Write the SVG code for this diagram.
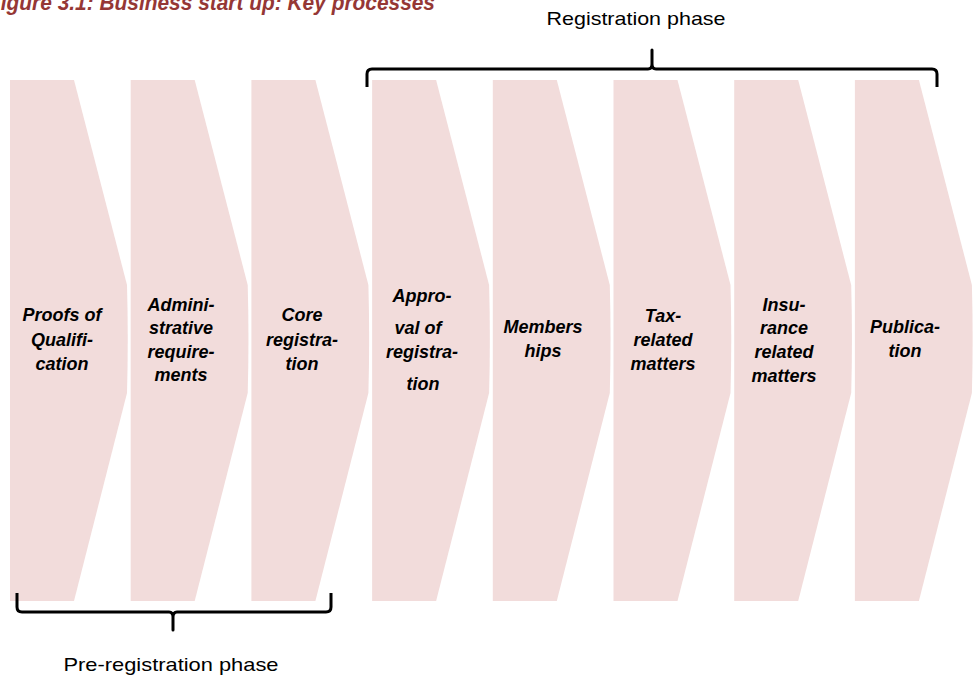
<svg xmlns="http://www.w3.org/2000/svg" width="975" height="681" viewBox="0 0 975 681">
<defs>
<style>
.step{fill:#f2dcdb;stroke:none}
.lbl{font-family:"Liberation Sans",Arial,sans-serif;font-size:18px;font-weight:bold;font-style:italic;fill:#000;text-anchor:middle}
.phase{font-family:"Liberation Sans",Arial,sans-serif;font-size:19px;fill:#000;text-anchor:middle}
.title{font-family:"Liberation Sans",Arial,sans-serif;font-size:22px;font-weight:bold;font-style:italic;fill:#953735}
.brace{fill:none;stroke:#000;stroke-width:3;stroke-linejoin:round;stroke-linecap:butt}
</style>
<path id="chev" d="M0,80 H64 L117,285 Q118.5,339 117,393 L64,601 H0 Z"/>
</defs>
<rect width="975" height="681" fill="#fff"/>
<text class="title" x="-12" y="10" textLength="447" lengthAdjust="spacingAndGlyphs">Figure 3.1: Business start up: Key processes</text>

<g id="n1"><use href="#chev" class="step" x="10"/>
<text class="lbl"><tspan x="62" y="321">Proofs of</tspan><tspan x="62" y="346">Qualifi-</tspan><tspan x="62" y="370">cation</tspan></text></g>
<g id="n2"><use href="#chev" class="step" x="130.7"/>
<text class="lbl"><tspan x="181" y="311">Admini-</tspan><tspan x="181" y="334">strative</tspan><tspan x="181" y="358">require-</tspan><tspan x="181" y="381">ments</tspan></text></g>
<g id="n3"><use href="#chev" class="step" x="251.4"/>
<text class="lbl"><tspan x="302" y="321">Core</tspan><tspan x="302" y="346">registra-</tspan><tspan x="302" y="370">tion</tspan></text></g>
<g id="n4"><use href="#chev" class="step" x="372.1"/>
<text class="lbl"><tspan x="422" y="302">Appro-</tspan><tspan x="418" y="334">val of</tspan><tspan x="422" y="358">registra-</tspan><tspan x="423" y="390">tion</tspan></text></g>
<g id="n5"><use href="#chev" class="step" x="492.8"/>
<text class="lbl"><tspan x="543" y="333">Members</tspan><tspan x="543" y="357">hips</tspan></text></g>
<g id="n6"><use href="#chev" class="step" x="613.5"/>
<text class="lbl"><tspan x="663" y="322">Tax-</tspan><tspan x="663" y="346">related</tspan><tspan x="663" y="370">matters</tspan></text></g>
<g id="n7"><use href="#chev" class="step" x="734.2"/>
<text class="lbl"><tspan x="784" y="311">Insu-</tspan><tspan x="784" y="334">rance</tspan><tspan x="784" y="358">related</tspan><tspan x="784" y="382">matters</tspan></text></g>
<g id="n8"><use href="#chev" class="step" x="854.9"/>
<text class="lbl"><tspan x="905" y="333">Publica-</tspan><tspan x="905" y="357">tion</tspan></text></g>

<g id="connectors">
<path class="brace" d="M367,87 V74 Q367,69 372,69 H648 Q652,69 652,64 V50 V64 Q652,69 656,69 H932 Q937,69 937,74 V87"/>
<path class="brace" d="M17,593 V607 Q17,612 22,612 H169 Q173,612 173,617 V630 V617 Q173,612 177,612 H326 Q331,612 331,607 V593"/>
</g>

<g id="phases">
<text class="phase" x="636" y="25" textLength="179" lengthAdjust="spacingAndGlyphs">Registration phase</text>
<text class="phase" x="171" y="671" textLength="215" lengthAdjust="spacingAndGlyphs">Pre-registration phase</text>
</g>
</svg>
